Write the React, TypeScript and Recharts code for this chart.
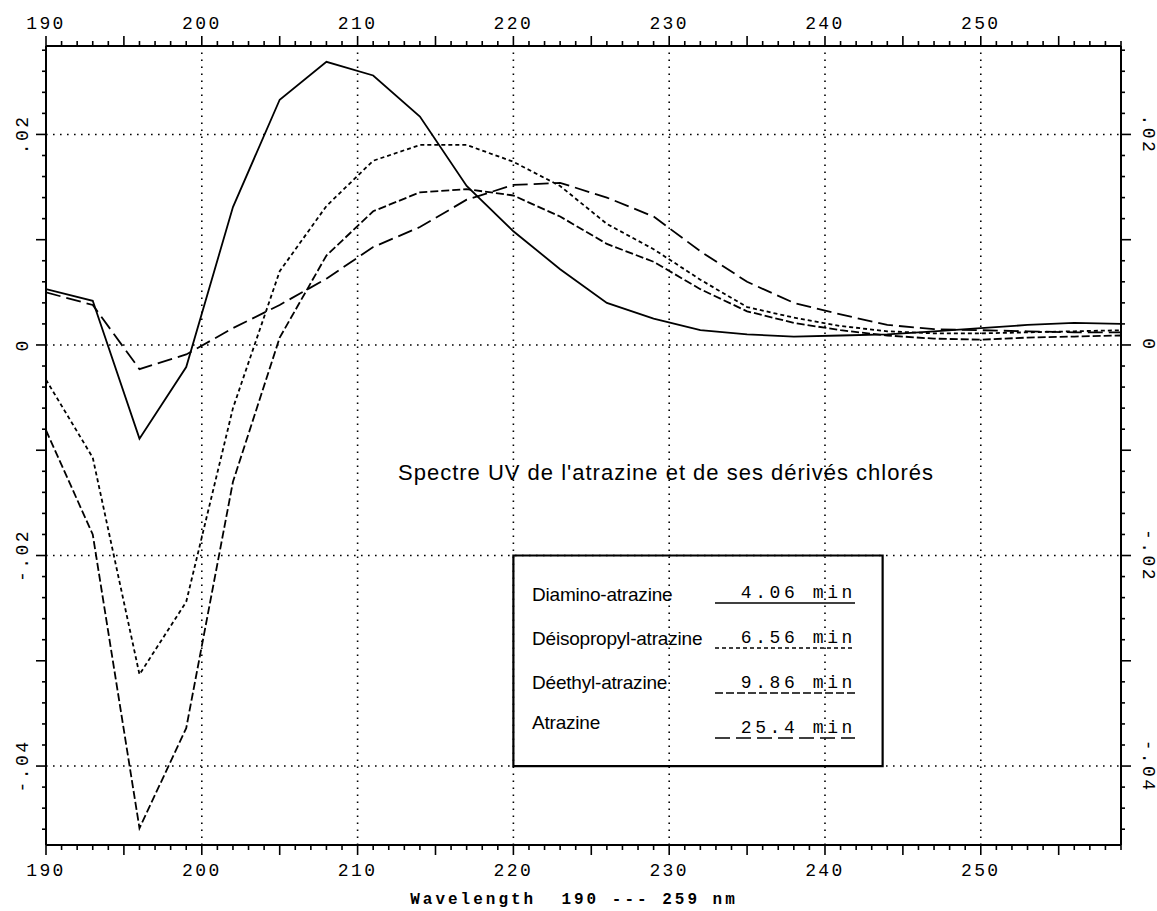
import React from "react";
import {
  LineChart,
  Line,
  XAxis,
  YAxis,
  ReferenceLine,
  ReferenceArea,
  Customized,
} from "recharts";

// ---- data ----
const wavelengths = [190, 193, 196, 199, 202, 205, 208, 211, 214, 217, 220, 223, 226, 229, 232, 235, 238, 241, 244, 247, 250, 253, 256, 259];
const diamino = [0.0053, 0.0042, -0.0089, -0.0021, 0.0131, 0.0233, 0.0269, 0.0256, 0.0217, 0.0151, 0.0108, 0.0072, 0.004, 0.0025, 0.0014, 0.001, 0.0008, 0.0009, 0.001, 0.0013, 0.0016, 0.0019, 0.0021, 0.002];
const deisopropyl = [-0.0033, -0.0107, -0.0313, -0.0244, -0.006, 0.007, 0.0132, 0.0175, 0.019, 0.019, 0.0174, 0.0151, 0.0115, 0.0091, 0.0062, 0.0036, 0.0026, 0.0018, 0.0013, 0.0011, 0.0011, 0.0012, 0.0013, 0.0014];
const deethyl = [-0.0081, -0.018, -0.0459, -0.0364, -0.013, 0.0007, 0.0085, 0.0127, 0.0145, 0.0148, 0.0142, 0.0122, 0.0096, 0.0079, 0.0053, 0.0032, 0.0021, 0.0014, 0.0009, 0.0006, 0.0005, 0.0007, 0.0008, 0.0009];
const atrazine = [0.005, 0.0038, -0.0023, -0.0009, 0.0016, 0.0038, 0.0063, 0.0093, 0.0112, 0.0138, 0.0152, 0.0154, 0.014, 0.0122, 0.0089, 0.006, 0.004, 0.0029, 0.0019, 0.0015, 0.0014, 0.0013, 0.0012, 0.0012];

const xMajorLabels = [190, 200, 210, 220, 230, 240, 250];
const xGrid = [200, 210, 220, 230, 240, 250];
const yGrid = [-0.04, -0.02, 0, 0.02];
const yLabels: Record<string, string> = { "0.02": ".02", "0": "0", "-0.02": "-.02", "-0.04": "-.04" };

const legendNames = ["Diamino-atrazine", "Déisopropyl-atrazine", "Déethyl-atrazine", "Atrazine"];
const legendTimes = ["4.06 min", "6.56 min", "9.86 min", "25.4 min"];
const dashes = ["", "4 3", "8 3", "15 6"];

const title = "Spectre UV de l'atrazine et de ses dérivés chlorés";
const xTitle = "Wavelength  190 --- 259 nm";

const xTicks = Array.from({ length: 70 }, (_, i) => 190 + i);
const yTicks = Array.from({ length: 38 }, (_, i) => Math.round((-0.046 + i * 0.002) * 1000) / 1000);

const data = wavelengths.map((wl, i) => ({
  wl,
  diamino: diamino[i],
  deisopropyl: deisopropyl[i],
  deethyl: deethyl[i],
  atrazine: atrazine[i],
}));

const MONO = "'Liberation Mono', 'DejaVu Sans Mono', monospace";
const SANS = "'Liberation Sans', Arial, sans-serif";

const XTick = (props: any) => {
  const { x, y, payload, side } = props;
  const v = payload.value;
  const major = v % 5 === 0;
  const len = major ? 10 : 5;
  const dir = side === "top" ? -1 : 1;
  const showLabel = xMajorLabels.includes(v);
  return (
    <g>
      <line x1={x} x2={x} y1={y} y2={y + dir * len} stroke="#000" strokeWidth={1.6} />
      {showLabel && (
        <text
          x={x}
          y={side === "top" ? y - 17 : y + 31}
          textAnchor="middle"
          fontFamily={MONO}
          fontSize={18}
          letterSpacing={2.4}
          fill="#000"
        >
          {v}
        </text>
      )}
    </g>
  );
};

const YTick = (props: any) => {
  const { x, y, payload, side } = props;
  const v = payload.value;
  const major = Math.abs(Math.round(v * 100) - v * 100) < 1e-6;
  const len = major ? 10 : 4;
  const dir = side === "left" ? -1 : 1;
  const key = String(Math.round(v * 1000) / 1000);
  const label = yLabels[key];
  const lx = side === "left" ? x - 23 : x + 27;
  return (
    <g>
      <line x1={x} x2={x + dir * len} y1={y} y2={y} stroke="#000" strokeWidth={1.6} />
      {label !== undefined && (
        <text
          x={lx}
          y={y}
          textAnchor="middle"
          dominantBaseline="central"
          fontFamily={MONO}
          fontSize={18}
          letterSpacing={2.4}
          fill="#000"
          transform={`rotate(${side === "left" ? -90 : 90} ${lx} ${y})`}
        >
          {label}
        </text>
      )}
    </g>
  );
};

const Annotations = () => {
  const nameY = [601, 645, 689, 729];
  const timeY = [598, 643, 688, 733];
  return (
    <g>
      <text x={666} y={480} textAnchor="middle" fontFamily={SANS} fontSize={22} letterSpacing={1} fill="#000">
        {title}
      </text>
      {legendNames.map((n, i) => (
        <g key={n}>
          <text x={532} y={nameY[i]} fontFamily={SANS} fontSize={19} letterSpacing={-0.2} fill="#000">
            {n}
          </text>
          <text x={856} y={timeY[i]} textAnchor="end" fontFamily={MONO} fontSize={18} letterSpacing={3.6} fill="#000">
            {legendTimes[i]}
          </text>
          <line
            x1={715}
            x2={855}
            y1={timeY[i] + 5}
            y2={timeY[i] + 5}
            stroke="#000"
            strokeWidth={1.6}
            strokeDasharray={dashes[i] || undefined}
          />
        </g>
      ))}
      <text x={574} y={904} textAnchor="middle" fontFamily={MONO} fontWeight="bold" fontSize={16} letterSpacing={3} fill="#000" style={{ whiteSpace: "pre" }}>
        {xTitle}
      </text>
    </g>
  );
};

const axisLine = { stroke: "#000", strokeWidth: 2 };
const gridProps = { stroke: "#000", strokeWidth: 1.6, strokeDasharray: "1.6 5.4" };

export default function App() {
  return (
    <div style={{ position: "absolute", left: 0, top: 0, width: 1157, height: 911, background: "#fff" }}>
      <LineChart width={1157} height={911} data={data} margin={{ top: 16, right: 6, bottom: 36, left: 16 }}>
        <XAxis
          xAxisId="b"
          dataKey="wl"
          type="number"
          domain={[190, 259]}
          allowDataOverflow
          ticks={xTicks}
          interval={0}
          orientation="bottom"
          height={30}
          tickSize={0}
          tickMargin={0}
          tickLine={false}
          axisLine={axisLine}
          tick={(p: any) => <XTick {...p} side="bottom" />}
        />
        <XAxis
          xAxisId="t"
          dataKey="wl"
          type="number"
          domain={[190, 259]}
          allowDataOverflow
          ticks={xTicks}
          interval={0}
          orientation="top"
          height={30}
          tickSize={0}
          tickMargin={0}
          tickLine={false}
          axisLine={axisLine}
          tick={(p: any) => <XTick {...p} side="top" />}
        />
        <YAxis
          yAxisId="l"
          type="number"
          domain={[-0.0475, 0.0284]}
          allowDataOverflow
          ticks={yTicks}
          interval={0}
          orientation="left"
          width={30}
          tickSize={0}
          tickMargin={0}
          tickLine={false}
          axisLine={axisLine}
          tick={(p: any) => <YTick {...p} side="left" />}
        />
        <YAxis
          yAxisId="r"
          type="number"
          domain={[-0.0475, 0.0284]}
          allowDataOverflow
          ticks={yTicks}
          interval={0}
          orientation="right"
          width={30}
          tickSize={0}
          tickMargin={0}
          tickLine={false}
          axisLine={axisLine}
          tick={(p: any) => <YTick {...p} side="right" />}
        />
        {xGrid.map((g) => (
          <ReferenceLine key={`x${g}`} x={g} xAxisId="b" yAxisId="l" {...gridProps} />
        ))}
        {yGrid.map((g) => (
          <ReferenceLine key={`y${g}`} y={g} xAxisId="b" yAxisId="l" {...gridProps} />
        ))}
        <ReferenceArea
          xAxisId="b"
          yAxisId="l"
          x1={220}
          x2={243.7}
          y1={-0.04}
          y2={-0.02}
          fill="none"
          fillOpacity={0}
          stroke="#000"
          strokeWidth={2.2}
        />
        <Line xAxisId="b" yAxisId="l" type="linear" dataKey="diamino" stroke="#000" strokeWidth={1.8} dot={false} isAnimationActive={false} />
        <Line xAxisId="b" yAxisId="l" type="linear" dataKey="deisopropyl" stroke="#000" strokeWidth={1.8} strokeDasharray={dashes[1]} dot={false} isAnimationActive={false} />
        <Line xAxisId="b" yAxisId="l" type="linear" dataKey="deethyl" stroke="#000" strokeWidth={1.8} strokeDasharray={dashes[2]} dot={false} isAnimationActive={false} />
        <Line xAxisId="b" yAxisId="l" type="linear" dataKey="atrazine" stroke="#000" strokeWidth={1.8} strokeDasharray={dashes[3]} dot={false} isAnimationActive={false} />
        <Customized component={Annotations} />
      </LineChart>
    </div>
  );
}
